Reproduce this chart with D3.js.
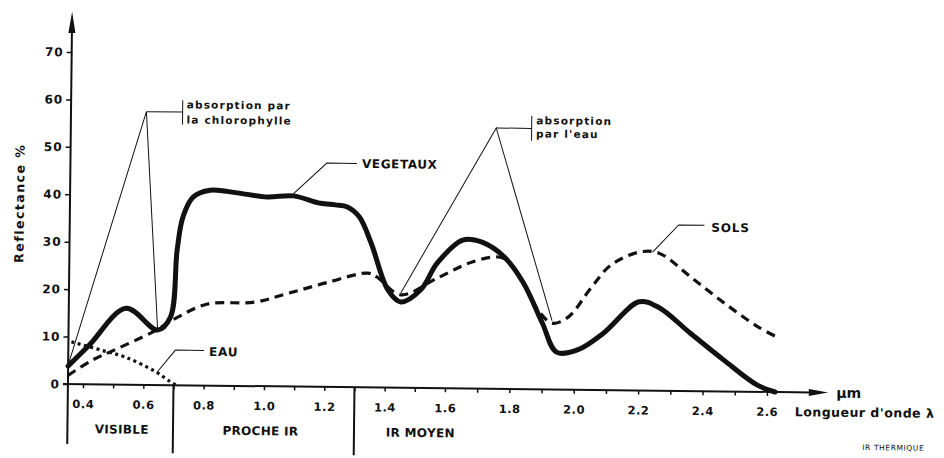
<!DOCTYPE html>
<html><head><meta charset="utf-8">
<script src="https://cdn.jsdelivr.net/npm/d3@7"></script>
<style>body{margin:0;background:#fff}svg{display:block}</style>
</head><body>
<svg id="c" width="944" height="458"></svg>
<script>
// ---- data ----
const wlVeg   = [0.35,0.42,0.54,0.645,0.687,0.707,0.725,0.758,0.814,0.904,1.003,1.09,1.18,1.23,1.27,1.31,1.35,1.407,1.45,1.516,1.57,1.65,1.71,1.78,1.84,1.90,1.945,2.01,2.09,2.2,2.26,2.36,2.465,2.57,2.625];
const reflVeg = [3.8,8.3,16.1,11.6,14.3,28.5,35.5,39.7,41.2,40.7,39.9,40.2,38.7,38.4,38.0,35.9,30.4,20.6,18.1,20.7,26.4,31.3,30.9,27.8,22.4,14.0,7.9,8.4,12.0,18.7,17.6,12.2,6.6,1.4,0];
const wlSoil   = [0.35,0.43,0.5,0.63,0.71,0.81,0.965,1.08,1.21,1.34,1.37,1.45,1.57,1.68,1.76,1.79,1.84,1.88,1.93,1.98,2.05,2.11,2.2,2.26,2.36,2.465,2.57,2.635];
const reflSoil = [1.8,5.1,7.2,11.2,14.3,17.2,17.7,19.7,22.1,24.1,23.3,19.6,23.2,26.7,27.8,27.0,22.4,17.3,14.0,15.3,21.5,26.3,29.2,29.0,24.0,18.6,13.7,11.4];
const wlWater   = [0.36,0.46,0.54,0.64,0.69,0.71];
const reflWater = [8.9,7.2,5.8,2.8,0.7,0];
const yTicks = [0,10,20,30,40,50,60,70];
const xTickLabels = ["0.4","0.6","0.8","1.0","1.2","1.4","1.6","1.8","2.0","2.2","2.4","2.6"];
const xMinorTicks = [0.4,0.5,0.6,0.7,0.8,0.9,1.0,1.1,1.2,1.3,1.4,1.5,1.6,1.7,1.8,1.9,2.0,2.1,2.2,2.3,2.4,2.5,2.6];
const regionNames = ["VISIBLE","PROCHE IR","IR MOYEN"];
const regionCenters = [0.53,0.99,1.52];
const regionBounds = [0.7,1.3];
const seriesNames = ["VEGETAUX","SOLS","EAU"];

// ---- setup ----
const svg = d3.select("#c");
const g = svg.append("g").attr("transform","rotate(0.65,68,384)");
const x = d3.scaleLinear().domain([0.4,1.6,2.6]).range([83,445,767]);
const y = d3.scaleLinear().domain([0,70]).range([384,52]);
const FONT = "'DejaVu Sans', 'Liberation Sans', sans-serif";
const INK = "#111";
const line = d3.line().x(d=>x(d[0])).y(d=>y(d[1]));
const smooth = d3.line().x(d=>x(d[0])).y(d=>y(d[1])).curve(d3.curveCatmullRom.alpha(0.5));
const zip = (a,b)=>a.map((v,i)=>[v,b[i]]);

// ---- axes ----
const x0 = x(0.35);
g.append("line").attr("x1",x0).attr("x2",x0).attr("y1",444).attr("y2",y(74.5))
  .attr("stroke",INK).attr("stroke-width",2);
g.append("path").attr("d",`M${x0},${y(78.5)}L${x0-3.5},${y(74)}L${x0+3.5},${y(74)}Z`).attr("fill",INK);
g.append("line").attr("x1",x0-5).attr("x2",x(2.74)).attr("y1",y(0)).attr("y2",y(0))
  .attr("stroke",INK).attr("stroke-width",2);
g.append("path").attr("d",`M${x(2.79)},${y(0)}L${x(2.73)},${y(0)-3.5}L${x(2.73)},${y(0)+3.5}Z`).attr("fill",INK);

const yAxis = d3.axisLeft(y).tickValues(yTicks).tickSize(5).tickPadding(3);
const ya = g.append("g").attr("transform",`translate(${x0},0)`).call(yAxis);
ya.select(".domain").remove();
ya.selectAll("line").attr("stroke",INK).attr("stroke-width",1.5);
ya.selectAll("text").attr("font-family",FONT).attr("font-weight","bold").attr("font-size",12)
  .attr("letter-spacing",1).attr("fill",INK);

const xAxis = d3.axisBottom(x).tickValues(xMinorTicks).tickSize(4)
  .tickFormat(d=>{const s=d.toFixed(1); return xTickLabels.includes(s)?s:"";});
const xa = g.append("g").attr("transform",`translate(0,${y(0)})`).call(xAxis);
xa.select(".domain").remove();
xa.selectAll("line").attr("stroke",INK).attr("stroke-width",1.5);
xa.selectAll("text").attr("y",24).attr("dy",0).attr("font-family",FONT).attr("font-weight","bold")
  .attr("font-size",11.5).attr("letter-spacing",0.5).attr("fill",INK);

regionBounds.forEach(b=>{
  g.append("line").attr("x1",x(b)).attr("x2",x(b)).attr("y1",y(0)).attr("y2",452)
    .attr("stroke",INK).attr("stroke-width",2);
});
regionNames.forEach((n,i)=>{
  g.append("text").attr("x",x(regionCenters[i])).attr("y",433).attr("text-anchor","middle")
    .attr("font-family",FONT).attr("font-weight","bold").attr("font-size",12).attr("letter-spacing",0.3)
    .attr("fill",INK).text(n);
});

g.append("text").attr("transform",`translate(22,${y(38)}) rotate(-90)`).attr("text-anchor","middle")
  .attr("font-family",FONT).attr("font-weight","bold").attr("font-size",12.5).attr("letter-spacing",1.5)
  .attr("fill",INK).text("Reflectance %");
g.append("text").attr("x",x(2.8)+5).attr("y",y(0)+5).attr("font-family",FONT).attr("font-weight","bold")
  .attr("font-size",14).attr("fill",INK).text("µm");
g.append("text").attr("x",x(2.6)+28).attr("y",408).attr("font-family",FONT).attr("font-size",12.5)
  .attr("font-weight","bold").attr("letter-spacing",0.5).attr("fill",INK).text("Longueur d'onde λ");
g.append("text").attr("x",x(2.6)+96).attr("y",441).attr("font-family",FONT).attr("font-size",7.5)
  .attr("letter-spacing",0.6).attr("fill",INK).text("IR THERMIQUE");

// ---- annotation thin lines ----
const thin = (pts)=>g.append("path").attr("d",line(pts)).attr("fill","none").attr("stroke",INK).attr("stroke-width",1);
const annChloroPath = [[0.35,4],[0.6,57.6],[0.645,12]];
const annChloroArm  = [[0.6,57.6],[0.72,57.6]];
const annChloroBr   = [[0.72,60.1],[0.72,55.0]];
const annWaterPath  = [[1.45,20],[1.75,55],[1.93,14.5]];
const annWaterArm   = [[1.75,55],[1.86,55]];
const annWaterBr    = [[1.86,57.6],[1.86,52.4]];
const leadVeg  = [[1.09,40.6],[1.2,47.2],[1.3,47.2]];
const leadSoil = [[2.24,29.2],[2.32,35],[2.4,35]];
const leadEau  = [[0.645,2.7],[0.705,7.4],[0.80,7.4]];
[annChloroPath,annChloroArm,annChloroBr,annWaterPath,annWaterArm,annWaterBr,leadVeg,leadSoil,leadEau].forEach(thin);

const txt = (xx,yy,s,size,ls,w)=>g.append("text").attr("x",xx).attr("y",yy).attr("font-family",FONT)
  .attr("font-size",size).attr("font-weight",w||"bold").attr("letter-spacing",ls).attr("fill",INK).text(s);
txt(x(0.72)+4, y(58.4), "absorption par", 10.5, 1.2);
txt(x(0.72)+4, y(55.2), "la chlorophylle", 10.5, 1.2);
txt(x(1.86)+4.5, y(55.9), "absorption", 10.5, 1.2);
txt(x(1.86)+4.5, y(53.1), "par l'eau", 10.5, 1.2);
txt(x(1.3)+5, y(47.2)+4.5, seriesNames[0], 12, 0.6);
txt(x(2.4)+7, y(35)+6.5, seriesNames[1], 12, 0.8);
txt(x(0.80)+5, y(7.4)+5.5, seriesNames[2], 12, 0.8);

// ---- series ----
g.append("path").attr("d",smooth(zip(wlWater,reflWater))).attr("fill","none").attr("stroke",INK)
  .attr("stroke-width",3.2).attr("stroke-dasharray","3,3.5");
g.append("path").attr("d",smooth(zip(wlSoil,reflSoil))).attr("fill","none").attr("stroke",INK)
  .attr("stroke-width",3.2).attr("stroke-dasharray","9,6");
g.append("path").attr("d",smooth(zip(wlVeg,reflVeg))).attr("fill","none").attr("stroke",INK)
  .attr("stroke-width",5).attr("stroke-linecap","round").attr("stroke-linejoin","round");
</script>
</body></html>
